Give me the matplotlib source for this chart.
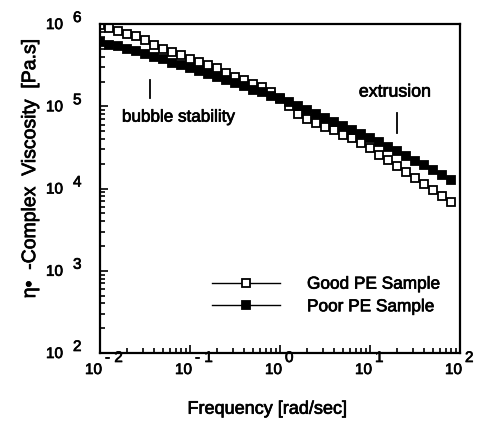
import matplotlib
matplotlib.use("Agg")
import matplotlib.pyplot as plt
import matplotlib.patheffects as pe
from matplotlib.ticker import FixedLocator, LogLocator, NullFormatter

plt.rcParams['font.family'] = ['Liberation Sans', 'DejaVu Sans']

# frequency [rad/sec], 10 points per decade
freq = [0.01, 0.0126, 0.0158, 0.02, 0.0251, 0.0316, 0.0398, 0.0501, 0.0631, 0.0794,
        0.1, 0.126, 0.158, 0.2, 0.251, 0.316, 0.398, 0.501, 0.631, 0.794,
        1.0, 1.26, 1.58, 2.0, 2.51, 3.16, 3.98, 5.01, 6.31, 7.94,
        10.0, 12.6, 15.8, 20.0, 25.1, 31.6, 39.8, 50.1, 63.1, 79.4]

# complex viscosity [Pa.s]
good_pe = [977000, 891000, 813000, 759000, 708000, 631000, 562000, 501000, 457000, 417000,
           380000, 347000, 316000, 288000, 257000, 229000, 209000, 186000, 170000, 151000,
           126000, 100000, 81300, 70800, 63100, 56200, 51300, 44700, 40700, 35500,
           30900, 25700, 22400, 18600, 15800, 13500, 11500, 9550, 8130, 6760]
poor_pe = [603000, 562000, 537000, 501000, 468000, 437000, 398000, 372000, 339000, 316000,
           288000, 269000, 245000, 224000, 209000, 191000, 174000, 158000, 148000, 135000,
           123000, 112000, 100000, 91200, 81300, 72400, 64600, 57500, 51300, 45700,
           40700, 36300, 32400, 28200, 25100, 21900, 19100, 16600, 14500, 12600]

x_ticks = [1e-2, 1e-1, 1e0, 1e1, 1e2]
x_exps = ['- 2', '- 1', '0', '1', '2']
y_ticks = [1e2, 1e3, 1e4, 1e5, 1e6]
y_exps = ['2', '3', '4', '5', '6']

PX = 0.72  # points per pixel at 100 dpi
heavy = [pe.withStroke(linewidth=0.5, foreground='black')]  # scanned print looks a bit bold

fig = plt.figure(figsize=(4.8, 4.22), dpi=100)
ax = fig.add_axes([0.2083, 0.1635, 0.75, 0.7796])

ax.plot(freq, good_pe, '-s', color='black', mfc='white', mec='black', ms=5.5, mew=1.3,
        lw=1.0, label='Good PE Sample')
ax.plot(freq, poor_pe, '-s', color='black', mfc='black', mec='black', ms=5.5, mew=1.3,
        lw=1.0, label='Poor PE Sample')

ax.set_xscale('log')
ax.set_yscale('log')
ax.set_xlim(1e-2, 1e2)
ax.set_ylim(1e2, 1e6)

ax.xaxis.set_major_locator(FixedLocator(x_ticks))
ax.yaxis.set_major_locator(FixedLocator(y_ticks))
ax.xaxis.set_minor_locator(LogLocator(base=10, subs=range(2, 10), numticks=20))
ax.yaxis.set_minor_locator(LogLocator(base=10, subs=range(2, 10), numticks=20))
ax.xaxis.set_minor_formatter(NullFormatter())
ax.yaxis.set_minor_formatter(NullFormatter())

ax.tick_params(which='both', direction='in', top=False, right=False,
               labelbottom=False, labelleft=False, width=1.2)
ax.tick_params(which='major', length=6)
ax.tick_params(which='minor', length=3.5)
for s in ax.spines.values():
    s.set_linewidth(1.6)

# old-style "10 ^ n" tick labels with a large exponent
for t, e in zip(x_ticks, x_exps):
    ax.annotate('10', xy=(t, 0), xycoords=('data', 'axes fraction'), xytext=(2 * PX, -17 * PX),
                textcoords='offset points', ha='right', va='center', fontsize=11,
                annotation_clip=False, path_effects=heavy)
    ax.annotate(e, xy=(t, 0), xycoords=('data', 'axes fraction'), xytext=(5 * PX, -5 * PX),
                textcoords='offset points', ha='left', va='center', fontsize=11,
                annotation_clip=False, path_effects=heavy)
for t, e in zip(y_ticks, y_exps):
    ax.annotate('10', xy=(0, t), xycoords=('axes fraction', 'data'), xytext=(-37 * PX, -1 * PX),
                textcoords='offset points', ha='right', va='center', fontsize=11,
                annotation_clip=False, path_effects=heavy)
    ax.annotate(e, xy=(0, t), xycoords=('axes fraction', 'data'), xytext=(-27 * PX, 6 * PX),
                textcoords='offset points', ha='left', va='center', fontsize=11,
                annotation_clip=False, path_effects=heavy)

ax.set_xlabel('Frequency [rad/sec]', fontsize=13, path_effects=heavy)
ax.xaxis.set_label_coords(0.464, -0.145)
ax.set_ylabel('η•  -Complex  Viscosity  [Pa.s]', fontsize=14, path_effects=heavy)
ax.yaxis.set_label_coords(-0.169, 0.562)

# annotations
ax.text(0.061, 0.717, 'bubble stability', transform=ax.transAxes, fontsize=12.3,
        va='center', ha='left', path_effects=heavy)
ax.plot([0.139, 0.139], [0.775, 0.830], transform=ax.transAxes, color='black', lw=1.3)
ax.text(0.719, 0.793, 'extrusion', transform=ax.transAxes, fontsize=12.8,
        va='center', ha='left', path_effects=heavy)
ax.plot([0.825, 0.825], [0.669, 0.729], transform=ax.transAxes, color='black', lw=1.3)

leg = ax.legend(loc='center left', bbox_to_anchor=(0.311, 0.175), frameon=False, fontsize=12.4,
                handlelength=3.95, handletextpad=1.57, borderpad=0, borderaxespad=0,
                labelspacing=0.44)
for txt in leg.get_texts():
    txt.set_path_effects(heavy)

fig.savefig('out.png', dpi=100)
